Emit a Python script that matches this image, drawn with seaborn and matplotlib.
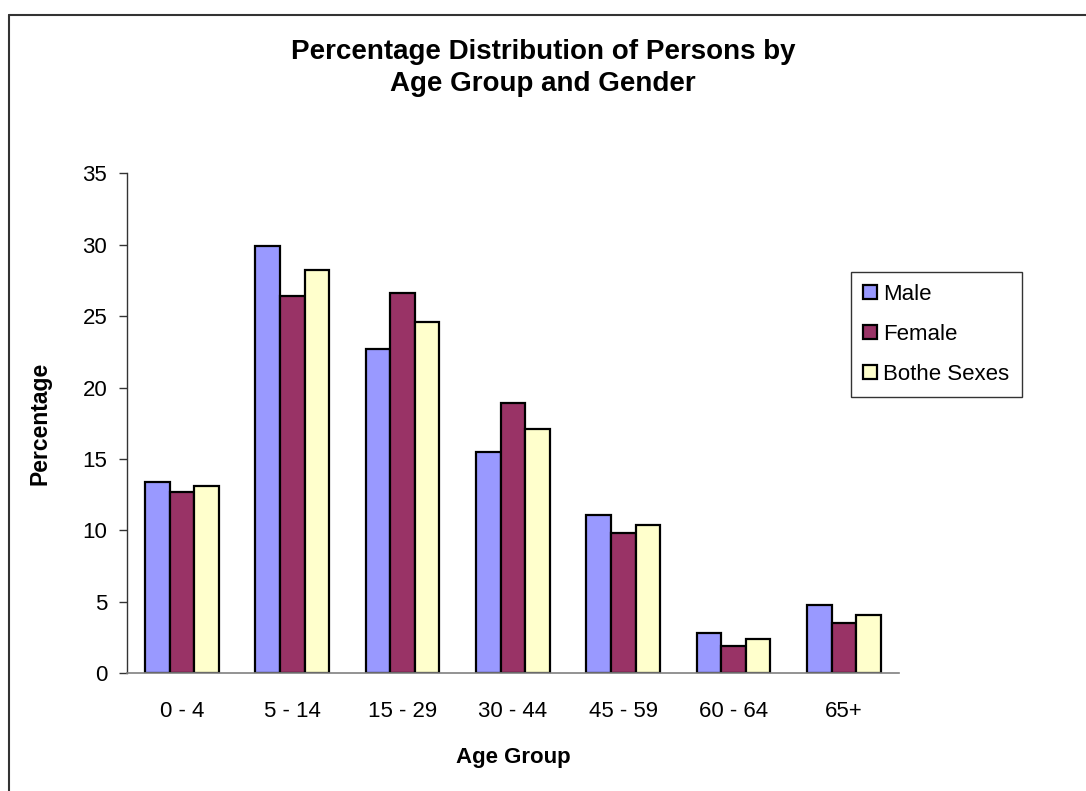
import matplotlib

matplotlib.use("Agg")

import matplotlib.pyplot as plt
import pandas as pd
import seaborn as sns
from matplotlib.lines import Line2D
from matplotlib.ticker import FixedLocator, MultipleLocator


AGE_GROUPS = ["0 - 4", "5 - 14", "15 - 29", "30 - 44", "45 - 59", "60 - 64", "65+"]
MALE = [13.4, 29.9, 22.7, 15.5, 11.1, 2.8, 4.8]
FEMALE = [12.7, 26.4, 26.6, 18.9, 9.8, 1.9, 3.5]
BOTH = [13.1, 28.2, 24.6, 17.1, 10.4, 2.4, 4.1]
SERIES = ["Male", "Female", "Bothe Sexes"]
COLORS = ["#9999FF", "#993366", "#FFFFCC"]


def build_frame() -> pd.DataFrame:
    rows = []
    for name, values in zip(SERIES, [MALE, FEMALE, BOTH]):
        for group, value in zip(AGE_GROUPS, values):
            rows.append({"age": group, "series": name, "value": value})
    return pd.DataFrame(rows)


def main() -> None:
    sns.set_theme(style="white")
    plt.rcParams["font.family"] = ["Liberation Sans", "DejaVu Sans"]
    plt.rcParams["text.color"] = "black"
    plt.rcParams["axes.labelcolor"] = "black"
    plt.rcParams["xtick.color"] = "black"
    plt.rcParams["ytick.color"] = "black"

    df = build_frame()

    fig = plt.figure(figsize=(10.86, 7.91), dpi=100)
    ax = fig.add_axes([0.1167, 0.1488, 0.8278 - 0.1167, 0.7809 - 0.1488])

    sns.barplot(
        data=df, x="age", y="value", hue="series", order=AGE_GROUPS, hue_order=SERIES,
        palette=COLORS, width=0.67, gap=0, edgecolor="black", linewidth=1.6,
        saturation=1, ax=ax,
    )

    ax.set_xlim(-0.5, len(AGE_GROUPS) - 0.5)
    ax.set_ylim(0, 35)
    ax.yaxis.set_major_locator(MultipleLocator(5))
    ax.xaxis.set_minor_locator(FixedLocator([i - 0.5 for i in range(len(AGE_GROUPS) + 1)]))

    ax.tick_params(axis="x", which="major", length=0, pad=20, labelsize=16, labelcolor="black")
    ax.tick_params(axis="x", which="minor", length=6, width=1, color="#808080", direction="out")
    ax.tick_params(axis="y", which="major", length=6, width=1, color="#333333", pad=8,
                   labelsize=16, labelcolor="black", direction="out", left=True)

    for side in ["top", "right"]:
        ax.spines[side].set_visible(False)
    ax.spines["left"].set_color("#333333")
    ax.spines["left"].set_linewidth(1)
    ax.spines["bottom"].set_color("#808080")
    ax.spines["bottom"].set_linewidth(1.2)
    ax.grid(False)

    ax.set_xlabel("Age Group", fontsize=16, fontweight="bold", labelpad=18, color="black")
    ax.set_ylabel("Percentage", fontsize=16.5, fontweight="bold", labelpad=22, color="black")

    fig.text(0.5, 1 - 52 / 791, "Percentage Distribution of Persons by", ha="center", va="center",
             fontsize=20, fontweight="bold", color="black")
    fig.text(0.5, 1 - 84 / 791, "Age Group and Gender", ha="center", va="center",
             fontsize=20, fontweight="bold", color="black")

    handles, labels = ax.get_legend_handles_labels()
    leg = ax.legend(
        handles, labels, loc="upper left", bbox_to_anchor=(851 / 1086, 1 - 271.7 / 791),
        bbox_transform=fig.transFigure, frameon=True, fancybox=False, shadow=False,
        edgecolor="#333333", fontsize=16, handlelength=0.6, handleheight=0.6,
        handletextpad=0.3, labelspacing=0.85, borderpad=0.55, borderaxespad=0,
        framealpha=1,
    )
    leg.get_frame().set_linewidth(1)
    for text in leg.get_texts():
        text.set_color("black")

    # outer chart border (right and bottom edges fall outside the picture)
    x0 = 9 / 1086
    y0 = 1 - 15 / 791
    fig.add_artist(Line2D([x0, x0], [-0.05, y0], transform=fig.transFigure, color="#333333", linewidth=1.5))
    fig.add_artist(Line2D([x0, 1.05], [y0, y0], transform=fig.transFigure, color="#333333", linewidth=1.5))

    fig.savefig("out.png", dpi=100, facecolor="white")
    plt.close(fig)


if __name__ == "__main__":
    main()
